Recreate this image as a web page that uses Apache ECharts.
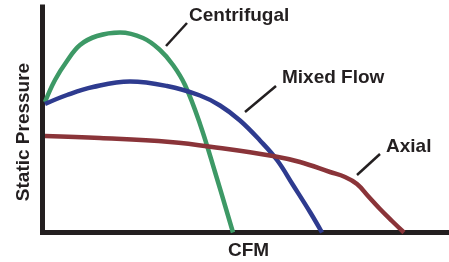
<!DOCTYPE html>
<html>
<head>
<meta charset="utf-8">
<script src="https://cdn.jsdelivr.net/npm/echarts@6/dist/echarts.min.js"></script>
<style>
  html, body { margin: 0; padding: 0; background: #fff; }
  #chart { width: 449px; height: 262px; }
</style>
</head>
<body>
<div id="chart"></div>
<script>
// curve points (x: flow, y: pressure, arbitrary units)
var centrifugal = [
  [2.5, 130.5], [12.5, 152.5], [24.5, 171.5], [37.5, 187.5], [54.5, 196.5],
  [77.5, 200], [100.5, 194.5], [117.5, 182.5], [130.5, 167.5], [142.5, 147.5],
  [157.5, 108.5], [172.5, 60.5], [190.5, 0]
];
var mixedFlow = [
  [2.5, 128.5], [24.5, 137.5], [50.5, 145.5], [87.5, 151], [124.5, 146.5],
  [157.5, 137], [177.5, 127], [197.5, 112], [217.5, 92], [234.5, 72.5],
  [250.5, 47.5], [267.5, 20.5], [279.5, 0]
];
var axial = [
  [2.5, 96.5], [57.5, 94.5], [127.5, 90.5], [177.5, 84.5], [230.5, 76.5],
  [257.5, 70.5], [287.5, 60.5], [302.5, 55.5], [314.5, 48.5], [325.5, 36.5],
  [337.5, 23.5], [349.5, 11.5], [361.5, 0]
];
var xMax = 406.5;
var yMax = 225.5;

var ink = '#231f20';
var font = 'Liberation Sans';

var chart = echarts.init(document.getElementById('chart'));

function curve(name, data, color) {
  return {
    name: name,
    type: 'line',
    data: data,
    smooth: 0.4,
    showSymbol: false,
    clip: false,
    lineStyle: { color: color, width: 4.5 },
    z: 3
  };
}

function label(text, x, y, rotation) {
  return {
    type: 'text',
    x: x,
    y: y,
    rotation: rotation || 0,
    style: {
      text: text,
      fill: ink,
      font: 'bold 19px "' + font + '"',
      verticalAlign: 'middle',
      align: rotation ? 'center' : 'left'
    },
    z: 10
  };
}

function leader(x1, y1, x2, y2) {
  return {
    type: 'line',
    shape: { x1: x1, y1: y1, x2: x2, y2: y2 },
    style: { stroke: ink, lineWidth: 2.5 },
    z: 10
  };
}

chart.setOption({
  animation: false,
  grid: { left: 42.5, right: 0, top: 7, bottom: 29.5 },
  xAxis: {
    type: 'value',
    min: 0,
    max: xMax,
    axisLine: { show: true, lineStyle: { color: ink, width: 5, cap: 'square' } },
    axisTick: { show: false },
    axisLabel: { show: false },
    splitLine: { show: false }
  },
  yAxis: {
    type: 'value',
    min: 0,
    max: yMax,
    axisLine: { show: true, lineStyle: { color: ink, width: 5, cap: 'square' } },
    axisTick: { show: false },
    axisLabel: { show: false },
    splitLine: { show: false }
  },
  series: [
    curve('Centrifugal', centrifugal, '#3d9966'),
    curve('Mixed Flow', mixedFlow, '#2e3b8f'),
    curve('Axial', axial, '#8a3439')
  ],
  graphic: [
    label('Centrifugal', 189, 16),
    label('Mixed Flow', 282, 78),
    label('Axial', 386, 147),
    label('CFM', 228, 251),
    label('Static Pressure', 24, 132, Math.PI / 2),
    leader(166, 46, 187, 23),
    leader(245, 112, 276, 86),
    leader(357, 175, 380, 154)
  ]
});
</script>
</body>
</html>
